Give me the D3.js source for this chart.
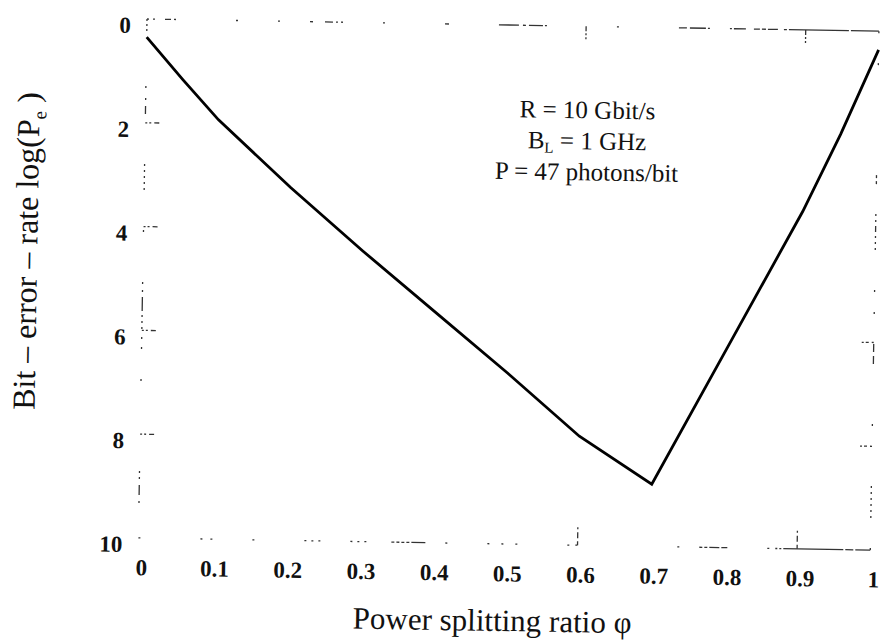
<!DOCTYPE html>
<html>
<head>
<meta charset="utf-8">
<script src="https://cdn.jsdelivr.net/npm/d3@7"></script>
<style>
  html, body { margin: 0; padding: 0; background: #fff; }
  svg { display: block; }
  text { font-family: "Liberation Serif", "DejaVu Serif", serif; fill: #111; }
</style>
</head>
<body>
<svg id="chart" width="881" height="644"></svg>
<script>
// ---- data ----
const phi = [0, 0.05, 0.1, 0.2, 0.3, 0.4, 0.5, 0.6, 0.7, 0.8, 0.9, 0.95, 1];
const logPe = [0.35, 1.15, 1.92, 3.2, 4.4, 5.55, 6.7, 7.9, 8.8, 6.15, 3.5, 2.0, 0.36];

const xTickValues = [0, 0.1, 0.2, 0.3, 0.4, 0.5, 0.6, 0.7, 0.8, 0.9, 1];
const xTickLabels = ["0", "0.1", "0.2", "0.3", "0.4", "0.5", "0.6", "0.7", "0.8", "0.9", "1"];
const yTickValues = [0, 2, 4, 6, 8, 10];
const yTickLabels = ["0", "2", "4", "6", "8", "10"];

// faded tick remnants visible in the scan
const topTicks = [0.6, 0.9];
const bottomTicks = [0.6, 0.9];
const leftTicks = [2, 4, 6, 8];
const rightTicks = [6, 8];

const annotation = ["R = 10 Gbit/s", "B_L = 1 GHz", "P = 47 photons/bit"];

// ---- layout ----
const W = 732, H = 519;
const svg = d3.select("#chart");
const g = svg.append("g").attr("transform", "translate(147,19) rotate(0.95)");

const x = d3.scaleLinear().domain([0, 1]).range([0, W]);
const y = d3.scaleLinear().domain([0, 10]).range([0, H]);

// broken (scanned) frame
const frameStyle = sel => sel.attr("fill", "none").attr("stroke", "#333").attr("stroke-width", 1.3);
frameStyle(g.append("line").attr("x1", 0).attr("y1", 0).attr("x2", W).attr("y2", 0))
  .attr("stroke-dasharray", "2,4,2,10,6,3,2,60,2,40,2,30,3,12,8,3,2,3,2,40,2,60,4,50,20,4,3,3,14,2,2,70,2,60,8,3,16,2,2,20,2,2,12,8,6");
frameStyle(g.append("line").attr("x1", 0).attr("y1", H).attr("x2", W).attr("y2", H))
  .attr("stroke-dasharray", "2,60,2,8,2,40,2,50,2,5,2,5,2,30,2,5,2,5,2,25,3,2,3,2,3,2,3,2,14,20,2,40,2,12,2,12,2,50,2,6,2,100,2,20,3,2,3,2,10,2,6,40,2,6,2,2,2");
frameStyle(g.append("line").attr("x1", 0).attr("y1", 0).attr("x2", 0).attr("y2", H))
  .attr("stroke-dasharray", "2,3,2,3,2,55,2,10,2,6,8,50,2,4,2,4,2,4,2,4,2,40,2,50,2,6,2,5,14,4,2,4,2,4,2,8,2,8,2,30,2,90,2,4,2,6,10,6,2,50,2,5,2,6,2");
frameStyle(g.append("line").attr("x1", W).attr("y1", 0).attr("x2", W).attr("y2", H))
  .attr("stroke-dasharray", "2,30,2,110,3,3,3,30,2,4,2,4,6,4,2,4,2,4,2,40,2,20,2,30,8,4,8,60,2,60,2,4,2,4,2,4,2,4,2,4");

// tick remnants
const tickLen = 14;
g.selectAll(".tt").data(topTicks).join("line")
  .attr("x1", d => x(d)).attr("x2", d => x(d)).attr("y1", 0).attr("y2", tickLen)
  .attr("stroke", "#333").attr("stroke-width", 1.3).attr("stroke-dasharray", "5,2,2,2,2,2");
g.selectAll(".bt").data(bottomTicks).join("line")
  .attr("x1", d => x(d)).attr("x2", d => x(d)).attr("y1", H).attr("y2", H - tickLen - 4)
  .attr("stroke", "#333").attr("stroke-width", 1.3).attr("stroke-dasharray", "4,3,6,3,2");
g.selectAll(".lt").data(leftTicks).join("line")
  .attr("x1", 0).attr("x2", tickLen).attr("y1", d => y(d)).attr("y2", d => y(d))
  .attr("stroke", "#333").attr("stroke-width", 1.3).attr("stroke-dasharray", "2,2,2,3,6");
g.selectAll(".rt").data(rightTicks).join("line")
  .attr("x1", W).attr("x2", W - tickLen).attr("y1", d => y(d)).attr("y2", d => y(d))
  .attr("stroke", "#333").attr("stroke-width", 1.3).attr("stroke-dasharray", "2,3,3,2,2");

// axes (labels only, like the scan)
const xAxis = d3.axisBottom(x).tickValues(xTickValues)
  .tickFormat((d, i) => xTickLabels[i]).tickSize(0).tickPadding(21);
const gx = g.append("g").attr("transform", `translate(0,${H})`).call(xAxis);
gx.select(".domain").remove();
gx.attr("font-size", 23).attr("font-family", "Liberation Serif, serif");
gx.selectAll("text").attr("font-weight", "bold").attr("fill", "#111").attr("dx", 3);

const yAxis = d3.axisLeft(y).tickValues(yTickValues)
  .tickFormat((d, i) => yTickLabels[i]).tickSize(0).tickPadding(16);
const gy = g.append("g").call(yAxis);
gy.select(".domain").remove();
gy.attr("font-size", 23).attr("font-family", "Liberation Serif, serif");
gy.selectAll("text").attr("font-weight", "bold").attr("fill", "#111").attr("dy", "0.6em");

// curve
const line = d3.line().x((d, i) => x(phi[i])).y((d, i) => y(logPe[i]));
g.append("path").datum(logPe).attr("d", line)
  .attr("fill", "none").attr("stroke", "#000").attr("stroke-width", 2.8)
  .attr("stroke-linejoin", "miter");

// annotation (one text element per line)
const annG = g.append("g").attr("font-size", 25).attr("text-anchor", "middle");
annG.append("text").attr("x", 442).attr("y", 92).text(annotation[0]);
const bl = annG.append("text").attr("x", 442).attr("y", 123);
bl.append("tspan").text("B");
bl.append("tspan").attr("font-size", 15).attr("dy", 4).text("L");
bl.append("tspan").attr("dy", -4).text(" = 1 GHz");
annG.append("text").attr("x", 442).attr("y", 154).text(annotation[2]);

// axis titles
g.append("text").attr("x", x(0.485)).attr("y", H + 87)
  .attr("text-anchor", "middle").attr("font-size", 31)
  .text("Power splitting ratio φ");

const yt = g.append("text").attr("transform", `translate(-106,${234}) rotate(-90)`)
  .attr("text-anchor", "middle").attr("font-size", 32);
yt.append("tspan").text("Bit – error – rate  log(P");
yt.append("tspan").attr("font-size", 19).attr("dy", 7).text("e");
yt.append("tspan").attr("dy", -7).text(" )");
</script>
</body>
</html>
